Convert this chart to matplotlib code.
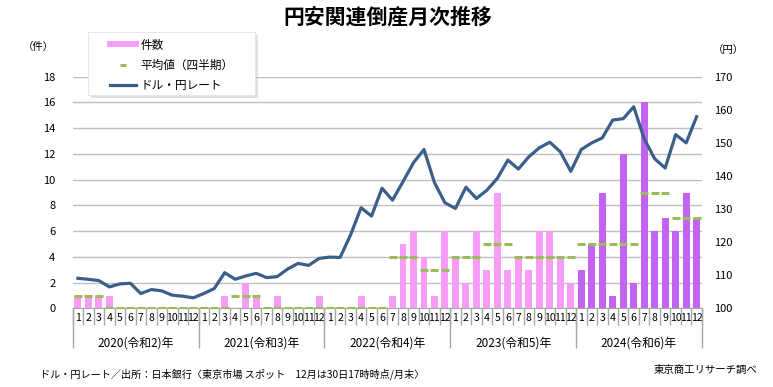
import numpy as np
import matplotlib.pyplot as plt
from matplotlib.lines import Line2D
from matplotlib.patches import Rectangle

plt.rcParams['font.family'] = ['Noto Sans CJK JP', 'DejaVu Sans']

# --- data ---
years = ['2020(令和2)年', '2021(令和3)年', '2022(令和4)年', '2023(令和5)年', '2024(令和6)年']
month_labels = [str(m) for m in range(1, 13)]

cases_2020 = [1, 1, 1, 1, 0, 0, 0, 0, 0, 0, 0, 0]
cases_2021 = [0, 0, 1, 0, 2, 1, 0, 1, 0, 0, 0, 1]
cases_2022 = [0, 0, 0, 1, 0, 0, 1, 5, 6, 4, 1, 6]
cases_2023 = [4, 2, 6, 3, 9, 3, 4, 3, 6, 6, 4, 2]
cases_2024 = [3, 5, 9, 1, 12, 2, 16, 6, 7, 6, 9, 7]

# quarterly average (shown on each month of the quarter)
quarter_avg = [1, 0, 0, 0,
               0, 1, 0, 0,
               0, 0, 4, 3,
               4, 5, 4, 4,
               5, 5, 9, 7]

usdjpy_2020 = [109.1, 108.8, 108.4, 106.5, 107.4, 107.6, 104.5, 105.7, 105.3, 104.0, 103.7, 103.2]
usdjpy_2021 = [104.5, 106.0, 110.8, 108.8, 109.8, 110.6, 109.3, 109.6, 111.9, 113.6, 113.0, 115.1]
usdjpy_2022 = [115.5, 115.4, 122.2, 130.4, 127.9, 136.3, 132.7, 138.3, 144.0, 148.0, 138.0, 131.9]
usdjpy_2023 = [130.2, 136.6, 133.2, 135.7, 139.3, 144.8, 142.1, 145.8, 148.5, 150.2, 147.3, 141.4]
usdjpy_2024 = [148.0, 150.0, 151.5, 156.9, 157.3, 160.9, 151.2, 145.2, 142.4, 152.5, 150.0, 157.9]

cases = cases_2020 + cases_2021 + cases_2022 + cases_2023 + cases_2024
usdjpy = usdjpy_2020 + usdjpy_2021 + usdjpy_2022 + usdjpy_2023 + usdjpy_2024
avg_monthly = np.repeat(quarter_avg, 3)

PINK = '#F79CF7'
PURPLE = '#C463F2'
GREEN = '#9BBB59'
NAVY = '#3A5F8B'
GRID = '#BFBFBF'
AXIS = '#A6A6A6'

W, H = 773, 387
x = np.arange(len(cases))
bar_colors = [PURPLE if i >= 48 else PINK for i in x]

fig = plt.figure(figsize=(W / 100, H / 100), dpi=100)
ax = fig.add_axes([0.094, 0.203, 0.814, 0.599])

ax.bar(x, cases, width=0.66, color=bar_colors, zorder=2)
ax.plot(x, avg_monthly, ls='none', marker='_', ms=5.2, mew=2.2, color=GREEN, zorder=3)

ax.set_xlim(-0.5, len(cases) - 0.5)
ax.set_ylim(0, 18)
ax.set_yticks(range(0, 19, 2))
ax.yaxis.grid(True, color=GRID, lw=1)
ax.set_axisbelow(True)
for s in ['left', 'right', 'top']:
    ax.spines[s].set_visible(False)
ax.spines['bottom'].set_color(AXIS)
ax.tick_params(axis='y', length=0, pad=12.5, labelsize=8)

# month labels and separators
ax.set_xticks(x, labels=month_labels * 5)
ax.set_xticks(np.arange(len(cases) + 1) - 0.5, minor=True)
ax.tick_params(axis='x', which='major', length=0, pad=3, labelsize=7.6)
ax.tick_params(axis='x', which='minor', length=12, color=AXIS, width=1)

# year labels and separators
sec = ax.secondary_xaxis('bottom')
sec.set_xticks(np.arange(5) * 12 + 5.5, labels=years)
sec.set_xticks(np.arange(6) * 12 - 0.5, minor=True)
sec.tick_params(which='major', length=0, pad=20, labelsize=8.5)
sec.tick_params(which='minor', length=29, color=AXIS, width=1)
sec.spines['bottom'].set_visible(False)

# exchange rate on the right axis
ax2 = ax.twinx()
ax2.plot(x, usdjpy, color=NAVY, lw=2.3, zorder=4)
ax2.set_ylim(100, 170)
ax2.set_yticks(range(100, 171, 10))
for s in ['left', 'right', 'top', 'bottom']:
    ax2.spines[s].set_visible(False)
ax2.tick_params(axis='y', length=0, pad=9, labelsize=8)

# legend box with soft shadow
bx0, by0, bx1, by1 = 88, 32, 255, 95
fig.patches.append(Rectangle(((bx0 + 3) / W, 1 - (by1 + 3) / H), (bx1 - bx0) / W, (by1 - by0) / H,
                             transform=fig.transFigure, facecolor='#B8B8B8', alpha=0.4,
                             edgecolor='none', zorder=1))
fig.patches.append(Rectangle((bx0 / W, 1 - by1 / H), (bx1 - bx0) / W, (by1 - by0) / H,
                             transform=fig.transFigure, facecolor='white',
                             edgecolor='#E3E3E3', lw=0.6, zorder=1.1))

handles = [
    Line2D([], [], color=PINK, lw=4.2),
    Line2D([], [], ls='none', marker='_', ms=4.5, mew=2.2, color=GREEN),
    Line2D([], [], color=NAVY, lw=2.3),
]
labels = ['件数', '平均値（四半期）', 'ドル・円レート']
leg = fig.legend(handles, labels, loc='upper left', bbox_to_anchor=(110 / W, 1 - 38.5 / H),
                 fontsize=8.4, frameon=False, handlelength=2.25, handletextpad=0.35,
                 labelspacing=0.62, borderpad=0, borderaxespad=0)
leg.set_zorder(2)

# texts
fig.text(0.502, 1 - 17 / H, '円安関連倒産月次推移', ha='center', va='center',
         fontsize=15, fontweight='bold')
fig.text(38 / W, 1 - 47 / H, '（件）', ha='center', va='center', fontsize=7.5)
fig.text(728 / W, 1 - 50 / H, '（円）', ha='center', va='center', fontsize=7.5)
fig.text(40 / W, 1 - 374 / H,
         'ドル・円レート／出所：日本銀行〈東京市場 スポット　12月は30日17時時点/月末〉',
         ha='left', va='center', fontsize=7.3)
fig.text(757 / W, 1 - 370 / H, '東京商工リサーチ調べ', ha='right', va='center', fontsize=7.5)

fig.savefig('out.png', dpi=100)
